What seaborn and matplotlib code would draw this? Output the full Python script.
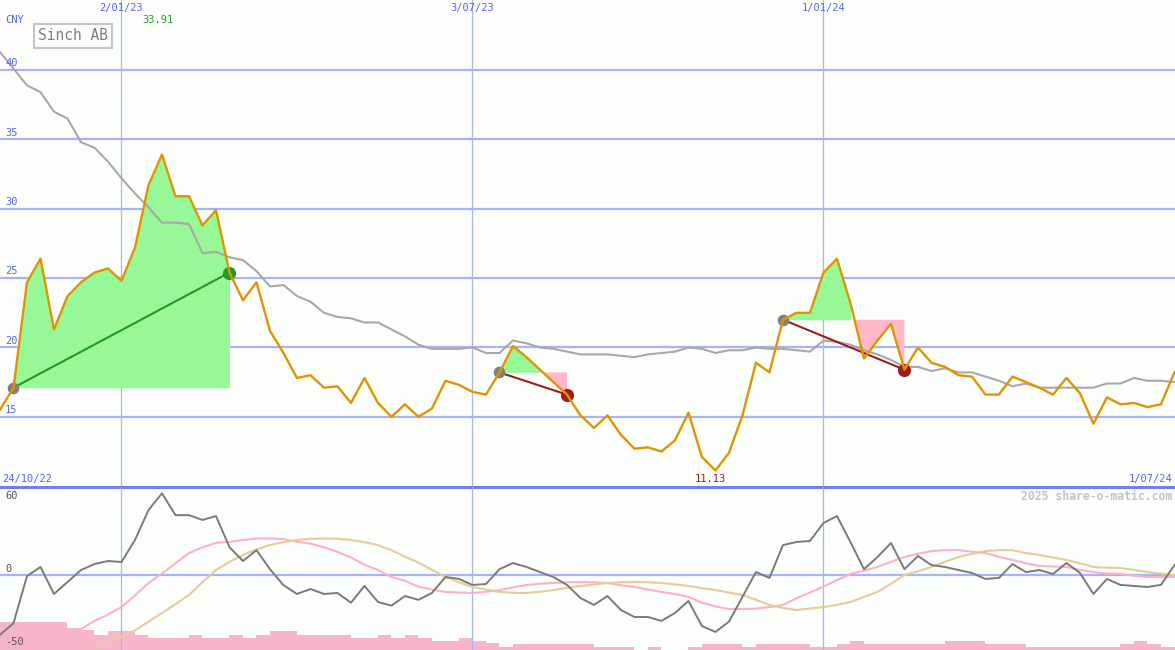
import numpy as np
import pandas as pd
import matplotlib.pyplot as plt
import matplotlib.dates as mdates
import seaborn as sns

# weekly closes, Sinch AB (CNY)
weeks = pd.date_range('2022-10-31', periods=88, freq='7D')

price = [15.5, 17.1, 24.7, 26.4, 21.3, 23.7, 24.7, 25.4, 25.7, 24.8,
         27.2, 31.7, 33.91, 30.9, 30.9, 28.8, 29.9, 25.4, 23.4, 24.7,
         21.2, 19.6, 17.8, 18.0, 17.1, 17.2, 16.0, 17.8, 16.0, 15.0,
         15.9, 15.0, 15.6, 17.6, 17.3, 16.8, 16.6, 18.2, 20.1, 19.3,
         18.4, 17.5, 16.6, 15.1, 14.2, 15.1, 13.7, 12.7, 12.8, 12.5,
         13.3, 15.3, 12.1, 11.13, 12.4, 15.1, 18.9, 18.2, 22.0, 22.5,
         22.5, 25.4, 26.4, 23.2, 19.2, 20.5, 21.7, 18.4, 20.0, 18.9,
         18.6, 18.0, 17.9, 16.6, 16.6, 17.9, 17.5, 17.1, 16.6, 17.8,
         16.7, 14.5, 16.4, 15.9, 16.0, 15.7, 15.9, 18.2]

avg = [41.3, 40.1, 38.9, 38.4, 37.0, 36.5, 34.8, 34.4, 33.4, 32.2,
       31.1, 30.1, 29.0, 29.0, 28.9, 26.8, 26.9, 26.5, 26.3, 25.5,
       24.4, 24.5, 23.7, 23.3, 22.5, 22.2, 22.1, 21.8, 21.8, 21.3,
       20.8, 20.2, 19.9, 19.9, 19.9, 20.0, 19.6, 19.6, 20.5, 20.3,
       20.0, 19.9, 19.7, 19.5, 19.5, 19.5, 19.4, 19.3, 19.5, 19.6,
       19.7, 20.0, 19.9, 19.6, 19.8, 19.8, 20.0, 19.9, 19.9, 19.8,
       19.7, 20.5, 20.4, 20.2, 19.8, 19.5, 19.1, 18.6, 18.6, 18.3,
       18.5, 18.2, 18.2, 17.9, 17.6, 17.2, 17.4, 17.1, 17.1, 17.1,
       17.1, 17.1, 17.4, 17.4, 17.8, 17.6, 17.6, 17.5]

osc = [-41, -33, -0.7, 5.5, -13, -4.8, 3.4, 7.5, 9.6, 8.9,
       24, 44.5, 56, 41, 41, 37.7, 40.4, 19, 9.6, 17,
       4, -7, -13, -9.6, -13, -12.3, -19, -7.5, -18.5, -21,
       -14.4, -17, -12.3, -1.4, -2.7, -6.8, -6.2, 4, 8.2, 5.5,
       2, -1.4, -6.8, -15.8, -20.5, -14.4, -24, -28.8, -28.8, -31.5,
       -26, -17.8, -35, -39, -32, -15, 2, -2, 20.5, 22.6,
       23.3, 35.6, 40.4, 22.6, 4, 12.3, 21.9, 4, 13, 6.8,
       5.5, 3.4, 1.4, -2.7, -2, 7.5, 2, 3.4, 0.7, 8.2,
       1.4, -13, -2.7, -6.8, -7.5, -8.2, -6.8, 6.8]

osc_fast = [np.nan] * 6 + [
    -37, -31.5, -27, -22, -14, -5.5, 1, 8, 15, 19,
    22, 22.6, 24, 25, 25, 24.6, 22.8, 21.5, 19, 15.8,
    12, 7, 3.4, -1.4, -4, -8, -10, -11.6, -12, -12.3,
    -11.5, -10.3, -8.5, -6.8, -6, -5.5, -5, -4.8, -5, -5.5,
    -7, -8.2, -10, -11.6, -13, -15, -19, -21.5, -23.3, -23.3,
    -23, -22, -20.5, -16, -12, -8, -3.5, 0.7, 3, 5.5,
    9, 12.3, 14.5, 16.4, 17, 17, 16, 15, 12.5, 10.3,
    8, 6.2, 5.8, 5.5, 3.5, 2, 1, 0.7, -0.5, -1.4,
    -1.4, -1.4]

osc_slow = [np.nan] * 7 + [
    -50, -46, -42.5, -38, -32, -26, -20, -13.7, -5,
    3.4, 9, 13.7, 17.5, 20.5, 22.5, 24, 24.8, 25, 24.8,
    24, 22.5, 20.5, 17, 12.5, 8.5, 3.5, -1.4, -5, -8.2,
    -10, -11.6, -12.2, -12.3, -11.5, -10.3, -8.8, -7.5, -6.5, -5.5,
    -5, -4.8, -5, -5.5, -6.5, -7.5, -9, -10.3, -12, -13.7,
    -17, -20.5, -22.6, -24, -23, -22, -20.5, -18.5, -15, -11.6,
    -6, 0, 2.5, 5.5, 9, 12.3, 14.5, 16.4, 17, 17,
    15, 13.7, 12, 10.3, 8, 5.5, 5, 4.8, 3.5, 2,
    1, 0]

volume = [28, 28, 28, 28, 28, 22, 20, 15, 19, 19,
          15, 12, 12, 12, 15, 12, 12, 15, 12, 15,
          19, 19, 15, 15, 15, 15, 12, 12, 15, 12,
          15, 12, 9, 9, 12, 9, 7, 3, 6, 6,
          6, 6, 6, 6, 3, 3, 3, 0, 3, 0,
          0, 3, 6, 6, 6, 3, 6, 6, 6, 6,
          3, 3, 6, 9, 6, 6, 6, 6, 6, 6,
          9, 9, 9, 6, 6, 6, 3, 3, 3, 3,
          3, 3, 3, 6, 9, 6, 3, 3]

# entry / exit week of each trade
trades = [(1, 17), (37, 42), (58, 67)]

grid_dates = ['2023-01-02', '2023-07-03', '2024-01-01']
grid_labels = ['2/01/23', '3/07/23', '1/01/24']
price_ticks = [15, 20, 25, 30, 35, 40]
osc_ticks = [60, 0, -50]
range_labels = ['24/10/22', '1/07/24']

bg = '#fcfefc'
grid_c = '#a8b4f4'
blue_txt = '#5565ec'
orange = '#e09400'

sns.set_style('white')
plt.rcParams['font.family'] = ['DejaVu Sans Mono', 'DejaVu Sans']

fig = plt.figure(figsize=(11.75, 6.5), dpi=100, facecolor=bg)
ax1 = fig.add_axes([0, 163 / 650, 1, 487 / 650], facecolor=bg)
ax2 = fig.add_axes([0, 0, 1, 163 / 650], facecolor=bg, sharex=ax1)
vax = ax2.twinx()
vax.set_zorder(ax2.get_zorder() - 1)
ax2.patch.set_visible(False)
vax.patch.set_facecolor(bg)

x_end = weeks[-1] + pd.Timedelta(hours=7)

# ---- price panel ----
for v in price_ticks:
    ax1.axhline(v, color=grid_c, lw=1.6, zorder=0)
for d in grid_dates:
    ax1.axvline(pd.Timestamp(d), color=grid_c, lw=0.9, zorder=0)
    ax2.axvline(pd.Timestamp(d), color=grid_c, lw=0.9, zorder=0)

p = np.array(price)
for a, b in trades:
    entry, exit_ = price[a], price[b]
    xs = weeks[a:b + 1]
    seg = p[a:b + 1]
    ax1.fill_between(xs, seg, entry, where=seg >= entry, color='#98f898', lw=0, zorder=1)
    ax1.fill_between(xs, seg, entry, where=seg <= entry, interpolate=True,
                     color='#ffb8c8', lw=0, zorder=1)

sns.lineplot(x=weeks, y=avg, ax=ax1, color='#a8a8a8', lw=1.5, zorder=2)

for a, b in trades:
    entry, exit_ = price[a], price[b]
    c = '#229922' if exit_ > entry else '#a01c1c'
    ax1.plot([weeks[a], weeks[b]], [entry, exit_], color=c, lw=1.5, zorder=3)
    ax1.scatter([weeks[a]], [entry], s=70, color='#808080', zorder=4, lw=0)
    ax1.scatter([weeks[b]], [exit_], s=90, color=c, zorder=4, lw=0)

sns.lineplot(x=weeks, y=price, ax=ax1, color=orange, lw=1.7, zorder=5)

ax1.set_ylim(9.94, 45.05)
ax1.set_xlim(weeks[0], x_end)

ytr = ax1.get_yaxis_transform()
for v in price_ticks:
    ax1.text(5 / 1175, v + 0.12, str(v), transform=ytr, color=blue_txt,
             fontsize=7.5, ha='left', va='bottom')

xtr = ax1.get_xaxis_transform()
for d, lab in zip(grid_dates, grid_labels):
    ax1.text(mdates.date2num(pd.Timestamp(d)), 1 - 8 / 487, lab, transform=xtr,
             color=blue_txt, fontsize=7.5, ha='center', va='center')

ax1.text(5 / 1175, 1 - 20 / 487, 'CNY', transform=ax1.transAxes, color=blue_txt,
         fontsize=7.5, ha='left', va='center')
ax1.text(73 / 1175, 1 - 36 / 487, 'Sinch AB', transform=ax1.transAxes, color='#808080',
         fontsize=10.5, ha='center', va='center',
         bbox=dict(boxstyle='square,pad=0.3', fc='none', ec='#c4c4c4', lw=1.5))

imax, imin = int(np.argmax(p)), int(np.argmin(p))
ax1.annotate(f'{p[imax]:.2f}', xy=(mdates.date2num(weeks[imax]), 1 - 20 / 487),
             xycoords=xtr, xytext=(-4, 0), textcoords='offset pixels', color='#20a020',
             fontsize=7.5, ha='center', va='center')
ax1.annotate(f'{p[imin]:.2f}', xy=(mdates.date2num(weeks[imin]), 8 / 487),
             xycoords=xtr, xytext=(-5, 0), textcoords='offset pixels', color='#a01c1c',
             fontsize=7.5, ha='center', va='center')
ax1.text(2 / 1175, 8 / 487, range_labels[0], transform=ax1.transAxes, color=blue_txt,
         fontsize=7.5, ha='left', va='center')
ax1.text(1 - 3 / 1175, 8 / 487, range_labels[1], transform=ax1.transAxes, color=blue_txt,
         fontsize=7.5, ha='right', va='center')

# ---- oscillator panel ----
vax.bar(weeks, volume, width=7, align='edge', color='#f8b4c8', lw=0)
vax.set_ylim(0, 163)

ax2.axhline(0, color=grid_c, lw=1.6, zorder=0)
sns.lineplot(x=weeks, y=osc_fast, ax=ax2, color='#ffb0c8', lw=1.5, zorder=2)
sns.lineplot(x=weeks, y=osc_slow, ax=ax2, color='#e6cc98', lw=1.5, zorder=2)
sns.lineplot(x=weeks, y=osc, ax=ax2, color='#7a7a7a', lw=1.4, zorder=3)
ax2.set_ylim(-51.4, 60.3)
ax2.set_xlim(weeks[0], x_end)

ytr2 = ax2.get_yaxis_transform()
ax2.text(5 / 1175, osc_ticks[0] - 2.5, str(osc_ticks[0]), transform=ytr2, color='#555555',
         fontsize=7.5, ha='left', va='top')
ax2.text(5 / 1175, osc_ticks[1] + 1, str(osc_ticks[1]), transform=ytr2, color='#555555',
         fontsize=7.5, ha='left', va='bottom')
ax2.text(5 / 1175, osc_ticks[2] + 0.5, str(osc_ticks[2]), transform=ytr2, color='#555555',
         fontsize=7.5, ha='left', va='bottom')
ax2.text(1 - 3 / 1175, 1 - 9 / 163, '2025 share-o-matic.com', transform=ax2.transAxes,
         color='#c4c4c4', fontsize=8.3, fontweight='bold', ha='right', va='center')

for ax in (ax1, ax2, vax):
    ax.set_xticks([])
    ax.set_yticks([])
    ax.set_xlabel('')
    ax.set_ylabel('')
    for s in ax.spines.values():
        s.set_visible(False)
ax1.spines['bottom'].set_visible(True)
ax1.spines['bottom'].set_color('#7080e8')
ax1.spines['bottom'].set_linewidth(2.2)
ax1.spines['bottom'].set_zorder(6)

fig.savefig('out.png', dpi=100, facecolor=bg)
